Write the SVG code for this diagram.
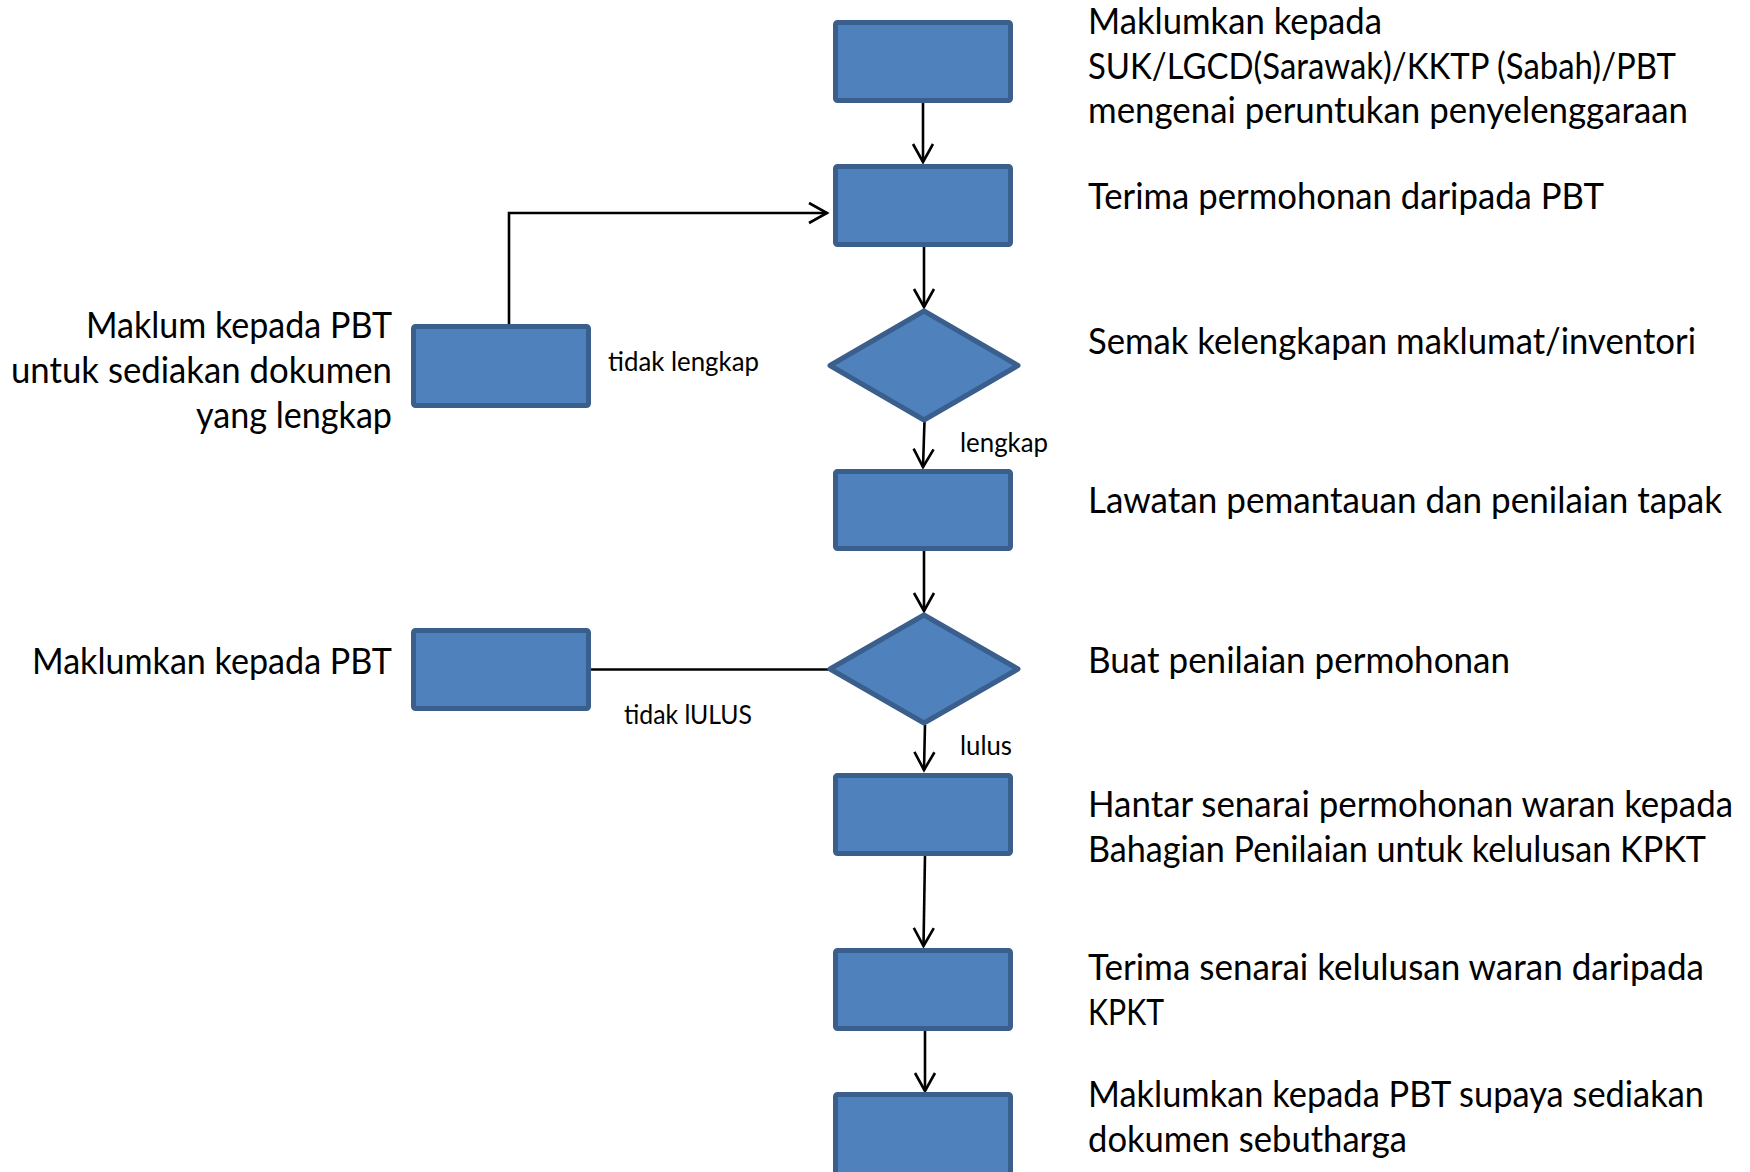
<svg xmlns="http://www.w3.org/2000/svg" width="1750" height="1172" viewBox="0 0 1750 1172">
<style>
.box{fill:#4F81BD;stroke:#3A5F8C;stroke-width:5;}
.dia{fill:#4F81BD;stroke:#3A5F8C;stroke-width:5;stroke-linejoin:round;}
.con{fill:none;stroke:#000;stroke-width:2.6;}
.big{font-family:Lato,"Liberation Sans",sans-serif;font-size:36px;fill:#000;}
.sm{font-family:Lato,"Liberation Sans",sans-serif;font-size:27.5px;fill:#000;}
.r{text-anchor:end;}
</style>
<defs>
<marker id="ah" markerUnits="userSpaceOnUse" markerWidth="30" markerHeight="30" refX="0" refY="0" viewBox="-20 -15 30 30" orient="auto" overflow="visible">
<path d="M -18 -10 L 0 0 L -18 10" fill="none" stroke="#000" stroke-width="2.6"/>
</marker>
</defs>
<rect width="1750" height="1172" fill="#fff"/>
<g id="connectors">
<path class="con" d="M 923 103 L 923 162" marker-end="url(#ah)"/>
<path class="con" d="M 924 247 L 924 307" marker-end="url(#ah)"/>
<path class="con" d="M 924.5 421 L 923 467" marker-end="url(#ah)"/>
<path class="con" d="M 924 550 L 924 611" marker-end="url(#ah)"/>
<path class="con" d="M 925 725 L 924 770" marker-end="url(#ah)"/>
<path class="con" d="M 925 855 L 923.5 946" marker-end="url(#ah)"/>
<path class="con" d="M 925 1030 L 925 1091" marker-end="url(#ah)"/>
<path class="con" d="M 509 325 L 509 213 L 827 213" marker-end="url(#ah)"/>
<path class="con" d="M 589 669.5 L 829 669.5"/>
<text class="sm" x="608" y="371" textLength="151" lengthAdjust="spacingAndGlyphs">tidak lengkap</text>
<text class="sm" x="960" y="452" textLength="88" lengthAdjust="spacingAndGlyphs">lengkap</text>
<text class="sm" x="624" y="724" textLength="128" lengthAdjust="spacingAndGlyphs">tidak lULUS</text>
<text class="sm" x="960" y="755" textLength="52" lengthAdjust="spacingAndGlyphs">lulus</text>
</g>
<g id="n1"><rect class="box" x="835.5" y="22.5" width="175" height="78" rx="2"/>
<text class="big" x="1088" y="34" textLength="294" lengthAdjust="spacingAndGlyphs">Maklumkan kepada</text>
<text class="big" x="1088" y="78.5" textLength="588" lengthAdjust="spacingAndGlyphs">SUK/LGCD(Sarawak)/KKTP (Sabah)/PBT</text>
<text class="big" x="1088" y="123" textLength="600" lengthAdjust="spacingAndGlyphs">mengenai peruntukan penyelenggaraan</text></g>
<g id="n2"><rect class="box" x="835.5" y="166.5" width="175" height="78" rx="2"/>
<text class="big" x="1088" y="209" textLength="516" lengthAdjust="spacingAndGlyphs">Terima permohonan daripada PBT</text></g>
<g id="n3"><polygon class="dia" points="924,311 1018,365.5 924,420 830,365.5"/>
<text class="big" x="1088" y="354" textLength="608" lengthAdjust="spacingAndGlyphs">Semak kelengkapan maklumat/inventori</text></g>
<g id="n4"><rect class="box" x="413.5" y="326.5" width="175" height="79" rx="2"/>
<text class="big r" x="392" y="337.5" textLength="306" lengthAdjust="spacingAndGlyphs">Maklum kepada PBT</text>
<text class="big r" x="392" y="383" textLength="381" lengthAdjust="spacingAndGlyphs">untuk sediakan dokumen</text>
<text class="big r" x="392" y="427.5" textLength="196" lengthAdjust="spacingAndGlyphs">yang lengkap</text></g>
<g id="n5"><rect class="box" x="835.5" y="471.5" width="175" height="77" rx="2"/>
<text class="big" x="1088" y="513" textLength="634" lengthAdjust="spacingAndGlyphs">Lawatan pemantauan dan penilaian tapak</text></g>
<g id="n6"><polygon class="dia" points="924,615 1018,669 924,723 830,669"/>
<text class="big" x="1088" y="673" textLength="422" lengthAdjust="spacingAndGlyphs">Buat penilaian permohonan</text></g>
<g id="n7"><rect class="box" x="413.5" y="630.5" width="175" height="78" rx="2"/>
<text class="big r" x="392" y="673.5" textLength="360" lengthAdjust="spacingAndGlyphs">Maklumkan kepada PBT</text></g>
<g id="n8"><rect class="box" x="835.5" y="775.5" width="175" height="78" rx="2"/>
<text class="big" x="1088" y="817" textLength="645" lengthAdjust="spacingAndGlyphs">Hantar senarai permohonan waran kepada</text>
<text class="big" x="1088" y="862" textLength="618" lengthAdjust="spacingAndGlyphs">Bahagian Penilaian untuk kelulusan KPKT</text></g>
<g id="n9"><rect class="box" x="835.5" y="950.5" width="175" height="78" rx="2"/>
<text class="big" x="1088" y="980" textLength="616" lengthAdjust="spacingAndGlyphs">Terima senarai kelulusan waran daripada</text>
<text class="big" x="1088" y="1025" textLength="76" lengthAdjust="spacingAndGlyphs">KPKT</text></g>
<g id="n10"><rect class="box" x="835.5" y="1094.5" width="175" height="90" rx="2"/>
<text class="big" x="1088" y="1107" textLength="616" lengthAdjust="spacingAndGlyphs">Maklumkan kepada PBT supaya sediakan</text>
<text class="big" x="1088" y="1152" textLength="319" lengthAdjust="spacingAndGlyphs">dokumen sebutharga</text></g>
</svg>
